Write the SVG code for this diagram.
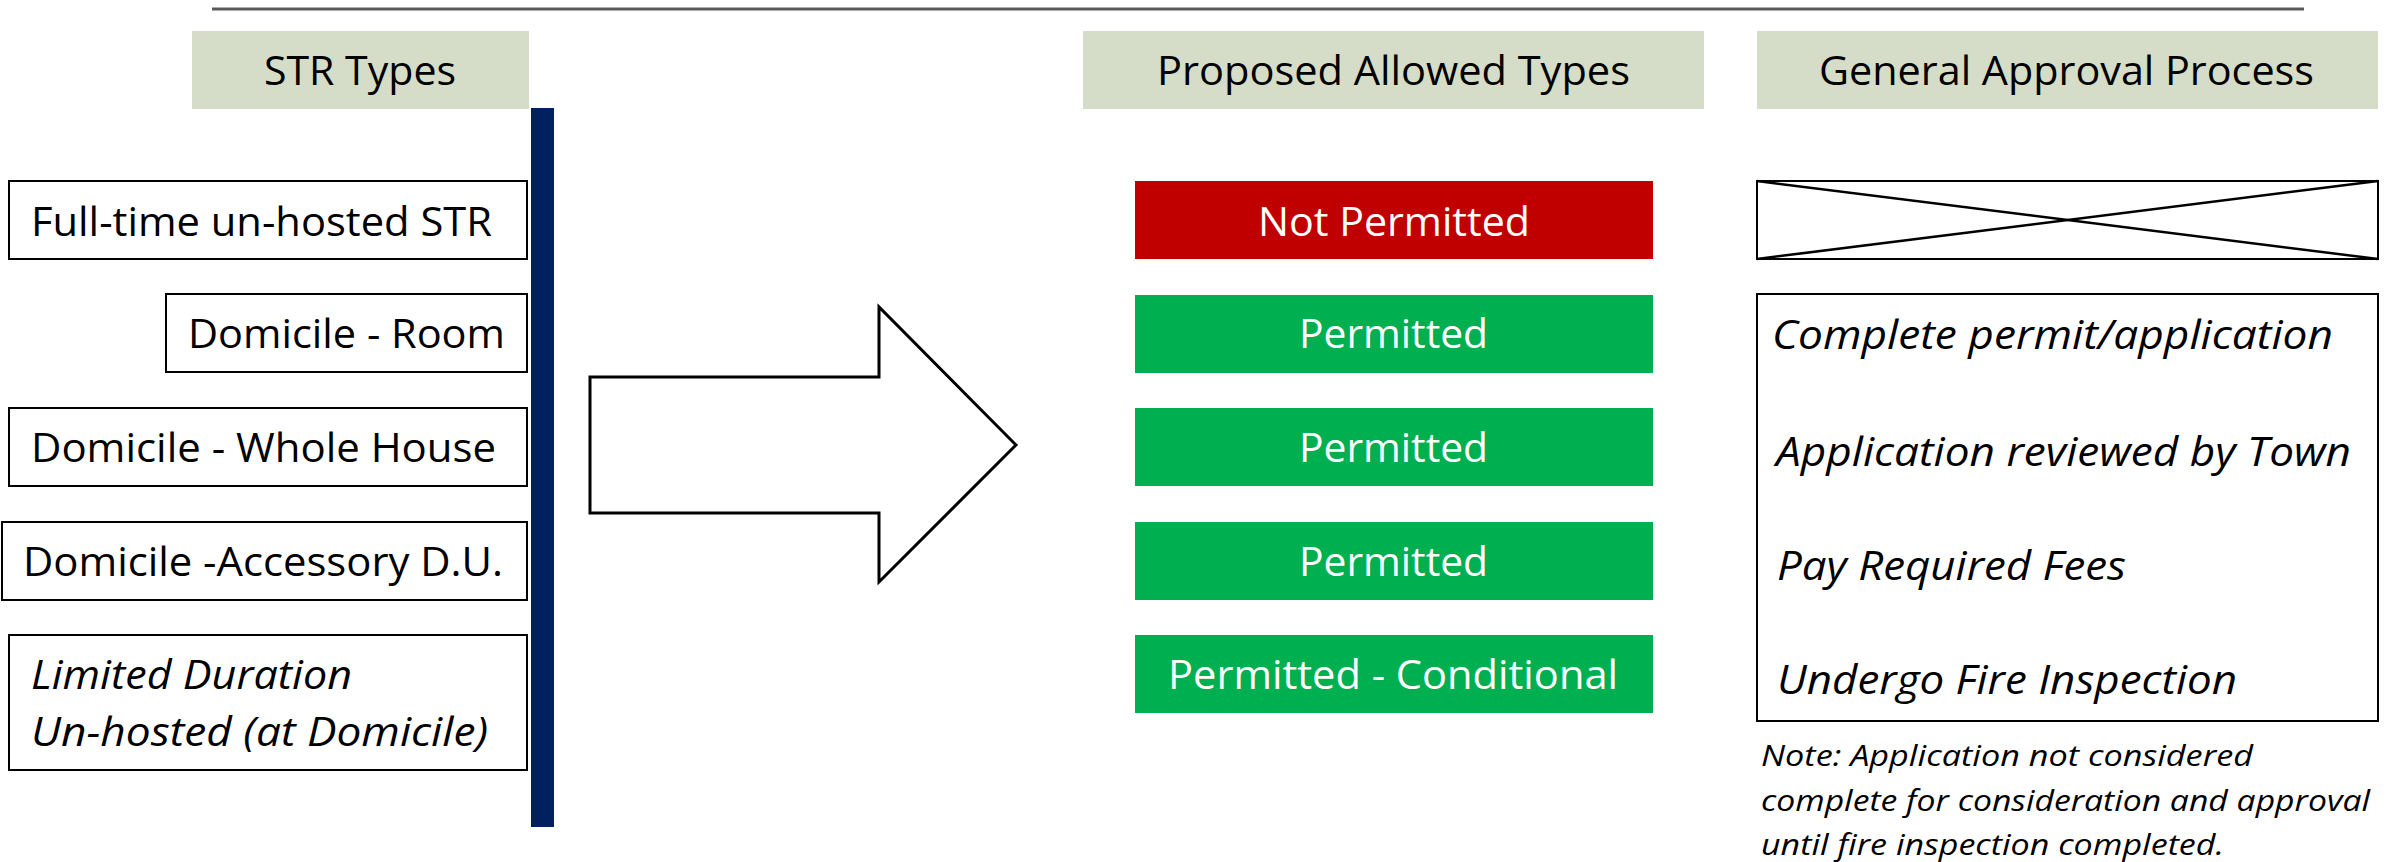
<svg xmlns="http://www.w3.org/2000/svg" width="2394" height="862" viewBox="0 0 2394 862">
<style>
text{font-family:"Open Sans","Liberation Sans",sans-serif;font-size:40px;fill:#000}
.it{font-style:italic}
.w{fill:#fff}
.note{font-size:30px;font-style:italic}
.hdr{fill:#D5DCC7}
.box{fill:#fff;stroke:#000;stroke-width:2}
.red{fill:#C00000}
.grn{fill:#00B050}
</style>
<rect width="2394" height="862" fill="#fff"/>
<line x1="212" y1="9" x2="2304" y2="9" stroke="#5a5a5a" stroke-width="3"/>

<g id="hdr-str"><rect class="hdr" x="192" y="31" width="337" height="78"/><text x="264" y="85" textLength="192" lengthAdjust="spacingAndGlyphs">STR Types</text></g>
<g id="hdr-proposed"><rect class="hdr" x="1083" y="31" width="621" height="78"/><text x="1157" y="85" textLength="473" lengthAdjust="spacingAndGlyphs">Proposed Allowed Types</text></g>
<g id="hdr-approval"><rect class="hdr" x="1757" y="31" width="621" height="78"/><text x="1819" y="85" textLength="495" lengthAdjust="spacingAndGlyphs">General Approval Process</text></g>

<g id="navy-bar"><rect x="531" y="108" width="23" height="719" fill="#002060"/></g>

<g id="str1"><rect class="box" x="9" y="181" width="518" height="78"/><text x="31" y="236" textLength="461" lengthAdjust="spacingAndGlyphs">Full-time un-hosted STR</text></g>
<g id="str2"><rect class="box" x="166" y="294" width="361" height="78"/><text x="188" y="348" textLength="317" lengthAdjust="spacingAndGlyphs">Domicile - Room</text></g>
<g id="str3"><rect class="box" x="9" y="408" width="518" height="78"/><text x="31" y="462" textLength="465" lengthAdjust="spacingAndGlyphs">Domicile - Whole House</text></g>
<g id="str4"><rect class="box" x="2" y="522" width="525" height="78"/><text x="23" y="576" textLength="480" lengthAdjust="spacingAndGlyphs">Domicile -Accessory D.U.</text></g>
<g id="str5"><rect class="box" x="9" y="635" width="518" height="135"/><text class="it" x="31" y="689" textLength="321" lengthAdjust="spacingAndGlyphs">Limited Duration</text><text class="it" x="31" y="746" textLength="457" lengthAdjust="spacingAndGlyphs">Un-hosted (at Domicile)</text></g>

<g id="connectors"><polygon points="590,377 879,377 879,307 1016,445 879,582 879,513 590,513" fill="#fff" stroke="#000" stroke-width="3" stroke-linejoin="miter"/></g>

<g id="allow1"><rect class="red" x="1135" y="181" width="518" height="78"/><text class="w" x="1258" y="236" textLength="272" lengthAdjust="spacingAndGlyphs">Not Permitted</text></g>
<g id="allow2"><rect class="grn" x="1135" y="295" width="518" height="78"/><text class="w" x="1299" y="348" textLength="189" lengthAdjust="spacingAndGlyphs">Permitted</text></g>
<g id="allow3"><rect class="grn" x="1135" y="408" width="518" height="78"/><text class="w" x="1299" y="462" textLength="189" lengthAdjust="spacingAndGlyphs">Permitted</text></g>
<g id="allow4"><rect class="grn" x="1135" y="522" width="518" height="78"/><text class="w" x="1299" y="576" textLength="189" lengthAdjust="spacingAndGlyphs">Permitted</text></g>
<g id="allow5"><rect class="grn" x="1135" y="635" width="518" height="78"/><text class="w" x="1168" y="689" textLength="450" lengthAdjust="spacingAndGlyphs">Permitted - Conditional</text></g>

<g id="process-x"><rect class="box" x="1757" y="181" width="621" height="78"/><line x1="1757" y1="181" x2="2378" y2="259" stroke="#000" stroke-width="2.5"/><line x1="1757" y1="259" x2="2378" y2="181" stroke="#000" stroke-width="2.5"/></g>
<g id="process"><rect class="box" x="1757" y="294" width="621" height="427"/>
<text class="it" x="1772" y="349" textLength="561" lengthAdjust="spacingAndGlyphs">Complete permit/application</text>
<text class="it" x="1776" y="466" textLength="575" lengthAdjust="spacingAndGlyphs">Application reviewed by Town</text>
<text class="it" x="1777" y="580" textLength="349" lengthAdjust="spacingAndGlyphs">Pay Required Fees</text>
<text class="it" x="1777" y="694" textLength="460" lengthAdjust="spacingAndGlyphs">Undergo Fire Inspection</text></g>
<g id="note">
<text class="note" x="1761" y="766" textLength="492" lengthAdjust="spacingAndGlyphs">Note: Application not considered</text>
<text class="note" x="1761" y="811" textLength="609" lengthAdjust="spacingAndGlyphs">complete for consideration and approval</text>
<text class="note" x="1761" y="855" textLength="463" lengthAdjust="spacingAndGlyphs">until fire inspection completed.</text></g>
</svg>
